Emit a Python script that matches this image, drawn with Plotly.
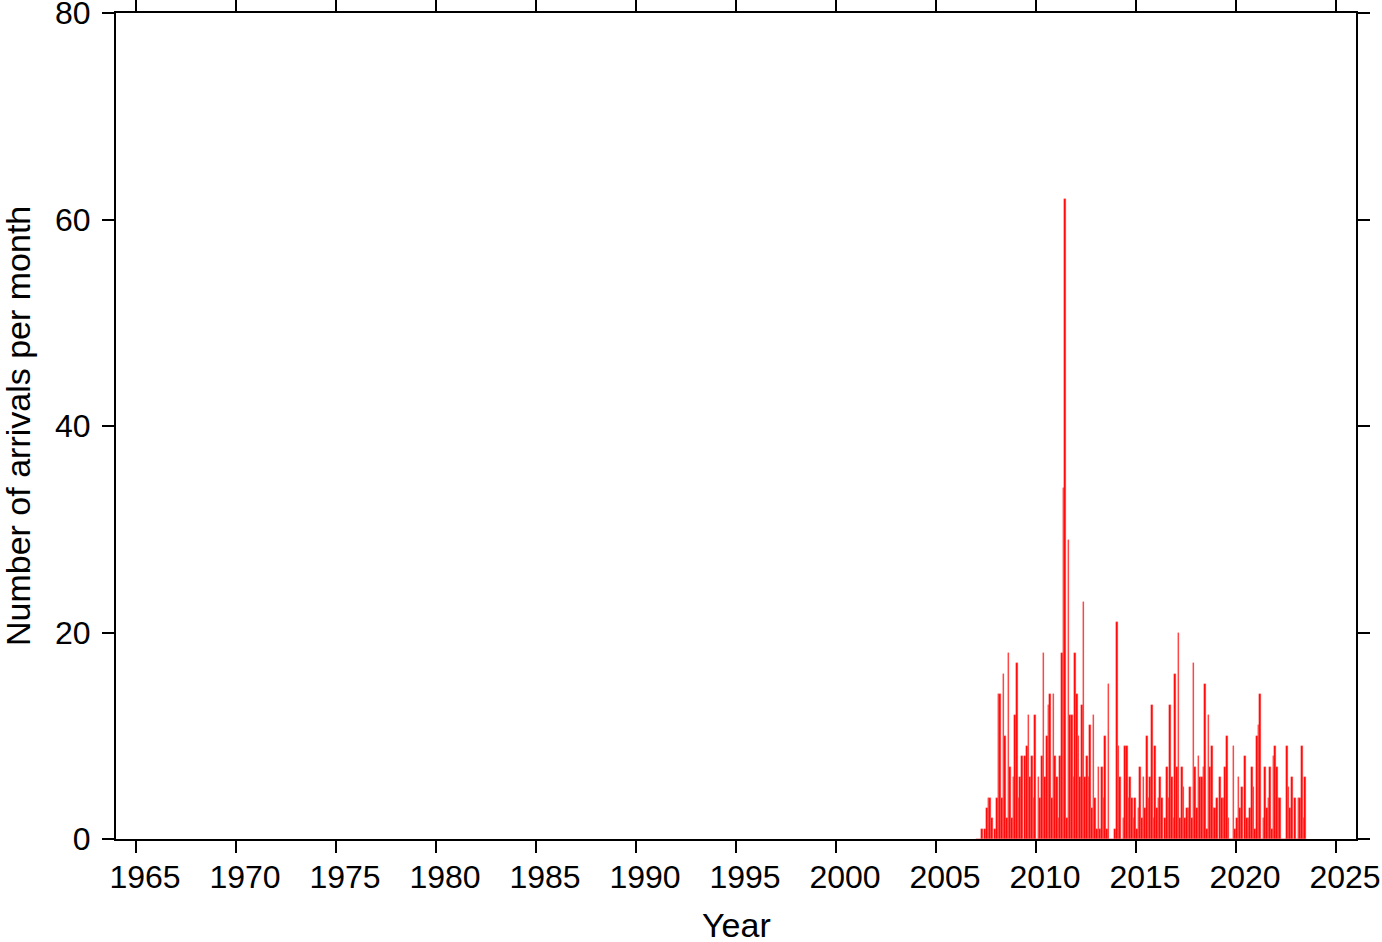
import plotly.graph_objects as go

# Monthly arrival counts starting January 2007
start_year = 2007
counts = [
    0, 0, 0, 1, 0, 1, 3, 4, 4, 2, 0, 1,        # 2007
    4, 14, 14, 4, 16, 10, 2, 18, 7, 2, 6, 12,  # 2008
    17, 4, 6, 8, 0, 8, 9, 12, 6, 8, 4, 12,     # 2009
    0, 6, 4, 8, 18, 6, 10, 13, 14, 4, 14, 8,   # 2010
    6, 2, 8, 18, 34, 62, 2, 29, 12, 12, 6, 18, # 2011
    14, 10, 6, 13, 23, 6, 8, 6, 11, 3, 12, 4,  # 2012
    1, 7, 1, 7, 4, 10, 1, 15, 0, 0, 0, 1,      # 2013
    21, 9, 6, 0, 2, 9, 9, 4, 6, 4, 2, 4,       # 2014
    1, 3, 7, 2, 6, 3, 10, 4, 6, 13, 2, 9,      # 2015
    3, 4, 6, 4, 0, 2, 7, 4, 13, 6, 2, 16,      # 2016
    7, 20, 2, 7, 5, 2, 3, 3, 5, 2, 17, 7,      # 2017
    3, 8, 6, 6, 7, 15, 1, 12, 7, 9, 3, 3,      # 2018
    4, 0, 6, 4, 4, 7, 10, 2, 0, 0, 9, 1,       # 2019
    2, 6, 3, 5, 0, 8, 2, 2, 3, 7, 5, 1,        # 2020
    10, 11, 14, 0, 2, 7, 3, 4, 7, 1, 8, 9,     # 2021
    7, 4, 4, 0, 0, 0, 9, 5, 3, 6, 0, 4,        # 2022
    0, 4, 4, 9, 2, 6,                          # 2023
]
x_ticks = [1965, 1970, 1975, 1980, 1985, 1990, 1995, 2000, 2005, 2010, 2015, 2020, 2025]
y_ticks = [0, 20, 40, 60, 80]
x_title = "Year"
y_title = "Number of arrivals per month"

x_centres = [start_year + (i + 0.5) / 12 for i in range(len(counts))]

fig = go.Figure(go.Bar(
    x=x_centres, y=counts, width=1 / 12,
    marker=dict(color="#ff0000", line=dict(color="#ff7070", width=0.4)),
))

family = "Liberation Sans, Arial, sans-serif"
tick_font = dict(family=family, size=32, color="black")
title_font = dict(family=family, size=34, color="black")
axis_common = dict(
    showline=True, linecolor="black", linewidth=2, mirror="allticks",
    ticks="outside", ticklen=12, tickwidth=1.5, tickcolor="black",
    showgrid=False, zeroline=False, tickfont=tick_font, automargin=False,
    ticklabeloverflow="allow",
)
fig.update_layout(
    width=1382, height=942,
    margin=dict(l=116, r=26, t=13, b=103),
    paper_bgcolor="white", plot_bgcolor="white",
    showlegend=False, bargap=0,
    xaxis=dict(range=[1964, 2026], tickvals=x_ticks, ticklabelshift=9,
               ticklabelstandoff=-3, **axis_common),
    yaxis=dict(range=[0, 80], tickvals=y_ticks, ticklabelstandoff=5,
               **axis_common),
    annotations=[
        dict(text=x_title, xref="paper", yref="paper", x=0.5, y=0,
             xanchor="center", yanchor="middle", yshift=-86,
             showarrow=False, font=title_font),
        dict(text=y_title, xref="paper", yref="paper", x=0, y=0.5,
             xanchor="center", yanchor="middle", xshift=-98, textangle=-90,
             showarrow=False, font=title_font),
    ],
)
fig.write_html(
    "out.html",
    config={"displayModeBar": False},
    post_script="document.body.style.margin='0px';document.body.style.overflow='hidden';",
)
